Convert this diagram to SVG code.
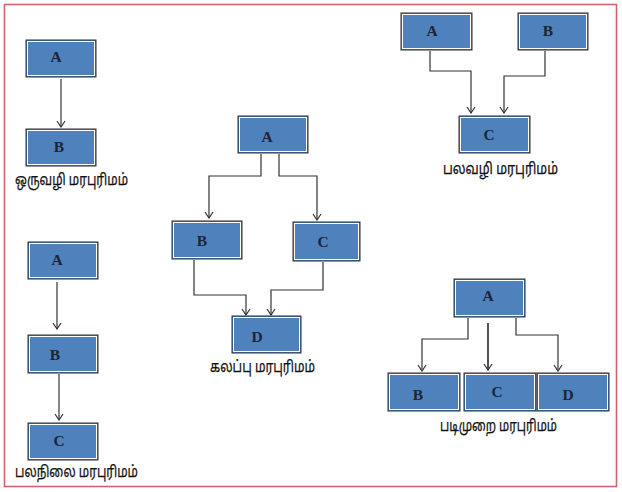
<svg xmlns="http://www.w3.org/2000/svg" width="622" height="492" viewBox="0 0 622 492">
<style>
.box{fill:#4F81BD;stroke:#2e2e2e;stroke-width:1}
.inner{fill:none;stroke:#ffffff;stroke-width:1}
.lt{font-family:"Liberation Serif","Times New Roman",serif;font-weight:bold;font-size:15.5px;fill:#1c2535;text-anchor:middle}
.cap{font-family:"Noto Sans","Noto Sans Tamil","Lohit Tamil",sans-serif;font-size:15.5px;fill:#111111;stroke:#111111;stroke-width:0.25}
.con{fill:none;stroke:#333333;stroke-width:1.2;marker-end:url(#arr)}
</style>
<defs>
<marker id="arr" markerUnits="userSpaceOnUse" markerWidth="12" markerHeight="10" refX="5" refY="9" orient="0" viewBox="0 0 10 10">
<path d="M1,3 L5,9 L9,3" fill="none" stroke="#333333" stroke-width="1.2"/>
</marker>
</defs>
<rect x="4.5" y="4.5" width="612" height="482" fill="#ffffff" stroke="#d0646e" stroke-width="1.6"/>

<g id="connectors">
<path class="con" d="M61,79 V127"/>
<path class="con" d="M57,282 V329"/>
<path class="con" d="M59,374 V420"/>
<path class="con" d="M261,154 V176 H209 V218"/>
<path class="con" d="M279,154 V176 H317 V220"/>
<path class="con" d="M194,260 V295 H246 V315"/>
<path class="con" d="M323,262 V290 H271 V315"/>
<path class="con" d="M430,51 V71 H471 V113"/>
<path class="con" d="M545,51 V76 H504 V113"/>
<path class="con" d="M468,318 V339 H422 V371"/>
<path class="con" style="stroke-width:1.7" d="M488,323 V370"/>
<path class="con" d="M516,318 V335 H558 V371"/>
</g>

<g id="single-A"><rect class="box" x="26" y="40" width="70" height="37"/><rect class="inner" x="27.5" y="41.5" width="67" height="34"/><text class="lt" x="56" y="62">A</text></g>
<g id="single-B"><rect class="box" x="26" y="129" width="70" height="37"/><rect class="inner" x="27.5" y="130.5" width="67" height="34"/><text class="lt" x="59" y="152">B</text></g>
<text class="cap" x="15" y="185" textLength="113" lengthAdjust="spacingAndGlyphs">ஒருவழி மரபுரிமம்</text>

<g id="multi-A"><rect class="box" x="28" y="242" width="70" height="37"/><rect class="inner" x="29.5" y="243.5" width="67" height="34"/><text class="lt" x="57" y="265">A</text></g>
<g id="multi-B"><rect class="box" x="28" y="335" width="70" height="38"/><rect class="inner" x="29.5" y="336.5" width="67" height="35"/><text class="lt" x="55" y="360">B</text></g>
<g id="multi-C"><rect class="box" x="28" y="423" width="70" height="37"/><rect class="inner" x="29.5" y="424.5" width="67" height="34"/><text class="lt" x="59" y="446">C</text></g>
<text class="cap" x="15" y="477" textLength="123" lengthAdjust="spacingAndGlyphs">பலநிலை மரபுரிமம்</text>

<g id="mix-A"><rect class="box" x="238" y="116" width="70" height="37"/><rect class="inner" x="239.5" y="117.5" width="67" height="34"/><text class="lt" x="267" y="142">A</text></g>
<g id="mix-B"><rect class="box" x="172" y="221" width="70" height="38"/><rect class="inner" x="173.5" y="222.5" width="67" height="35"/><text class="lt" x="202" y="246">B</text></g>
<g id="mix-C"><rect class="box" x="293" y="222" width="67" height="39"/><rect class="inner" x="294.5" y="223.5" width="64" height="36"/><text class="lt" x="323" y="247">C</text></g>
<g id="mix-D"><rect class="box" x="232" y="316" width="69" height="37"/><rect class="inner" x="233.5" y="317.5" width="66" height="34"/><text class="lt" x="257" y="342">D</text></g>
<text class="cap" x="210" y="372" textLength="105" lengthAdjust="spacingAndGlyphs">கலப்பு மரபுரிமம்</text>

<g id="multiple-A"><rect class="box" x="401" y="13" width="71" height="37"/><rect class="inner" x="402.5" y="14.5" width="68" height="34"/><text class="lt" x="432" y="36">A</text></g>
<g id="multiple-B"><rect class="box" x="518" y="13" width="70" height="37"/><rect class="inner" x="519.5" y="14.5" width="67" height="34"/><text class="lt" x="548" y="36">B</text></g>
<g id="multiple-C"><rect class="box" x="459" y="116" width="71" height="37"/><rect class="inner" x="460.5" y="117.5" width="68" height="34"/><text class="lt" x="489" y="140">C</text></g>
<text class="cap" x="443" y="174" textLength="115" lengthAdjust="spacingAndGlyphs">பலவழி மரபுரிமம்</text>

<g id="hier-A"><rect class="box" x="454" y="279" width="71" height="38"/><rect class="inner" x="455.5" y="280.5" width="68" height="35"/><text class="lt" x="488" y="301">A</text></g>
<g id="hier-B"><rect class="box" x="388" y="373" width="72" height="38"/><rect class="inner" x="389.5" y="374.5" width="69" height="35"/><text class="lt" x="418" y="400">B</text></g>
<g id="hier-C"><rect class="box" x="464" y="373" width="72" height="38"/><rect class="inner" x="465.5" y="374.5" width="69" height="35"/><text class="lt" x="497" y="397">C</text></g>
<g id="hier-D"><rect class="box" x="537" y="373" width="72" height="38"/><rect class="inner" x="538.5" y="374.5" width="69" height="35"/><text class="lt" x="568" y="400">D</text></g>
<text class="cap" x="440" y="431" textLength="117" lengthAdjust="spacingAndGlyphs">படிமுறை மரபுரிமம்</text>
</svg>
